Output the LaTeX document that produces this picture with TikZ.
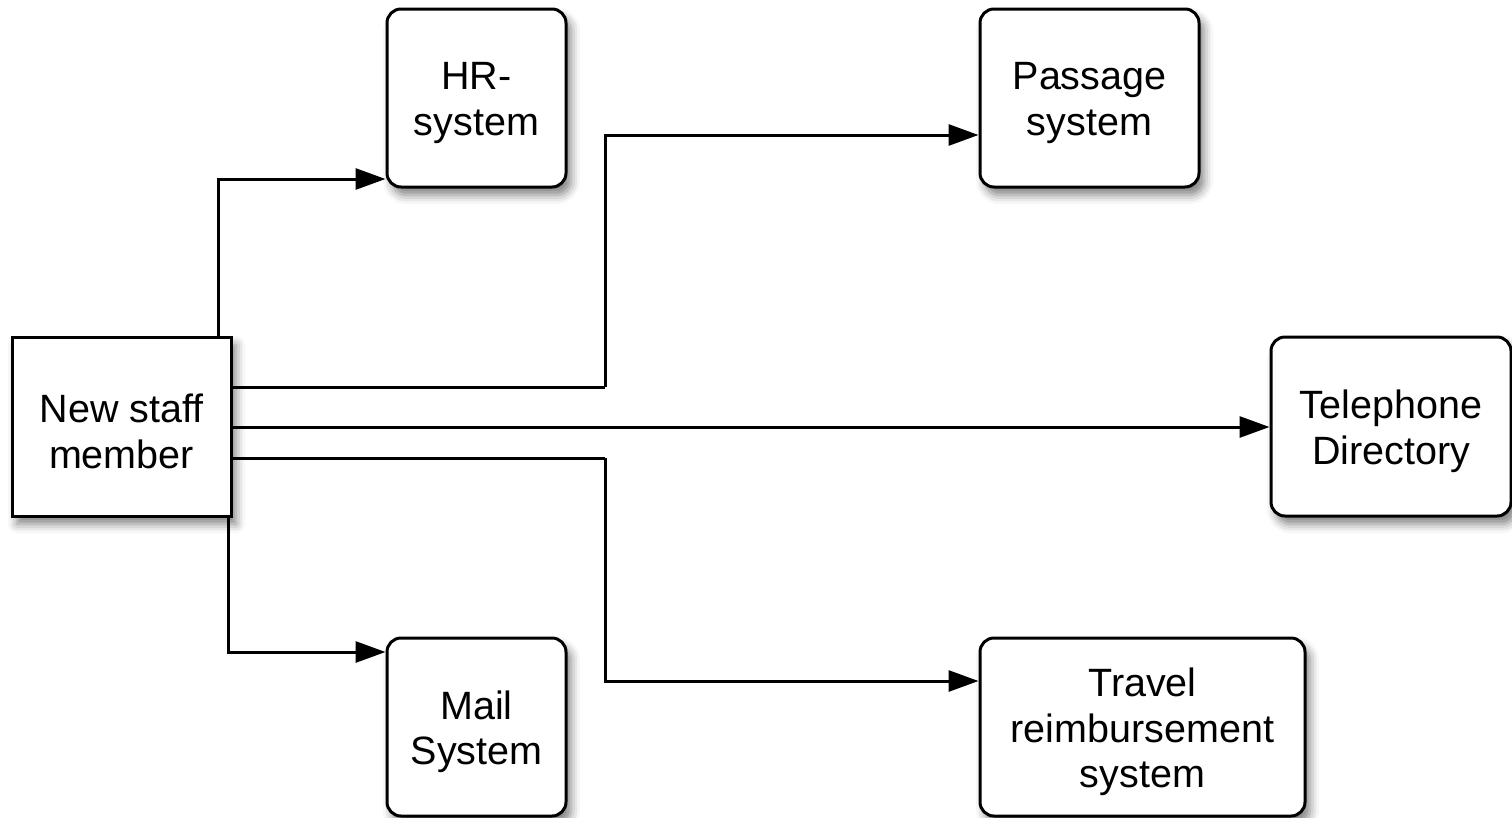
\documentclass[tikz,border=0pt]{standalone}
\usepackage{fontspec}
\setmainfont{Liberation Sans}
\usetikzlibrary{arrows.meta,shadows.blur}
\begin{document}
\begin{tikzpicture}[x=1pt,y=-1pt,
  sysbox/.style={draw=black,line width=3pt,fill=white,inner sep=0pt,
    blur shadow={shadow xshift=5pt,shadow yshift=-8pt,shadow blur radius=9pt,shadow opacity=50}},
  roundbox/.style={sysbox,rounded corners=14pt},
  caption/.style={align=center,font=\fontsize{39.5}{45.5}\selectfont,inner sep=0pt},
  link/.style={line width=3pt,-{Triangle[length=30pt,width=21pt]}},
  plain/.style={line width=3pt}]
\useasboundingbox (0,0) rectangle (1512,817);

% system boxes
\node[sysbox,minimum width=219pt,minimum height=179pt] (new) at (121.5,426.5) {};
\node[roundbox,minimum width=179pt,minimum height=178pt] (hr) at (476.5,98) {};
\node[roundbox,minimum width=219pt,minimum height=178pt] (pass) at (1089.5,98) {};
\node[roundbox,minimum width=240pt,minimum height=179pt] (tel) at (1391,426.5) {};
\node[roundbox,minimum width=179pt,minimum height=178pt] (mail) at (476.5,727) {};
\node[roundbox,minimum width=325pt,minimum height=178pt] (travel) at (1142.5,727) {};

% captions, set a little below each box centre
\node[caption] (newtext) at ([yshift=-5pt]new.center) {New staff\\member};
\node[caption] (hrtext) at ([yshift=-5pt]hr.center) {HR-\\system};
\node[caption] (passtext) at ([yshift=-5pt]pass.center) {Passage\\system};
\node[caption] (teltext) at ([yshift=-5pt]tel.center) {Telephone\\Directory};
\node[caption] (mailtext) at ([yshift=-5pt]mail.center) {Mail\\System};
\node[caption] (traveltext) at ([yshift=-5pt]travel.center) {Travel\\reimbursement\\system};

% routing corners
\coordinate (passup) at (605,387);
\coordinate (traveldown) at (605,458);

% connectors
\draw[link] (new.north -| 218,0) |- (hr.west |- 0,179);
\draw[plain] (new.east |- 0,387) -- (passup);
\draw[link] (passup) |- (pass.west |- 0,135);
\draw[link] (new.east |- 0,427) -- (tel.west |- 0,427);
\draw[plain] (new.east |- 0,458) -- (traveldown);
\draw[link] (traveldown) |- (travel.west |- 0,681);
\draw[link] (new.south -| 228,0) |- (mail.west |- 0,652);
\end{tikzpicture}
\end{document}
